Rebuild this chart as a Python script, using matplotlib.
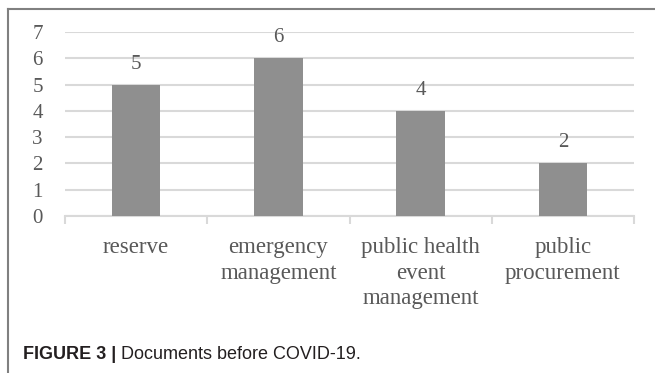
import matplotlib
matplotlib.use("Agg")
import matplotlib.pyplot as plt
from matplotlib.lines import Line2D

categories = ["reserve", "emergency\nmanagement", "public health\nevent\nmanagement", "public\nprocurement"]
counts = [5, 6, 4, 2]
y_ticks = [0, 1, 2, 3, 4, 5, 6, 7]

W, H = 655, 373
fig = plt.figure(figsize=(W / 100, H / 100), dpi=100)

# plot area in pixel terms
left, right, top, bottom = 65, 634, 32, 216
ax = fig.add_axes([left / W, 1 - bottom / H, (right - left) / W, (bottom - top) / H])

serif = "Liberation Serif"
txt_color = "#595959"

x = list(range(len(categories)))
ax.bar(x, counts, width=0.34, color="#8f8f8f", zorder=3)
ax.set_xlim(-0.5, len(categories) - 0.5)
ax.set_ylim(0, 7)

ax.set_yticks(y_ticks)
ax.set_yticklabels([str(v) for v in y_ticks], fontfamily=serif, fontsize=15, color=txt_color)
ax.yaxis.grid(True, color="#d9d9d9", linewidth=1.5, zorder=0)
ax.tick_params(axis="y", length=0, pad=16)

ax.set_xticks(x)
ax.set_xticklabels(categories, fontfamily=serif, fontsize=16.5, color=txt_color, linespacing=1.3)
ax.set_xticks([i - 0.5 for i in range(len(categories) + 1)], minor=True)
ax.tick_params(axis="x", which="major", length=0, pad=15)
ax.tick_params(axis="x", which="minor", length=6, width=1.5, color="#d9d9d9")

for s in ["top", "right", "left"]:
    ax.spines[s].set_visible(False)
ax.spines["bottom"].set_color("#d9d9d9")
ax.spines["bottom"].set_linewidth(1.5)

for xi, v in zip(x, counts):
    ax.annotate(str(v), (xi, v), xytext=(0, 11.5), textcoords="offset points",
                ha="center", va="baseline", fontfamily=serif, fontsize=15, color=txt_color)

# frame lines at top and left of the figure panel
fig.add_artist(Line2D([8 / W, 1], [1 - 9 / H, 1 - 9 / H], color="#808080", linewidth=1.5))
fig.add_artist(Line2D([8 / W, 8 / W], [0, 1 - 9 / H], color="#808080", linewidth=1.5))

# caption
t1 = fig.text(23 / W, 1 - 359 / H, "FIGURE 3 | ", fontfamily="Liberation Sans", fontweight="bold",
              fontsize=13, color="#231f20", va="baseline")
fig.canvas.draw()
bb = t1.get_window_extent()
fig.text(bb.x1 / W, 1 - 359 / H, "Documents before COVID-19.", fontfamily="Liberation Sans",
         fontsize=13, color="#231f20", va="baseline")

fig.savefig("out.png", dpi=100)
